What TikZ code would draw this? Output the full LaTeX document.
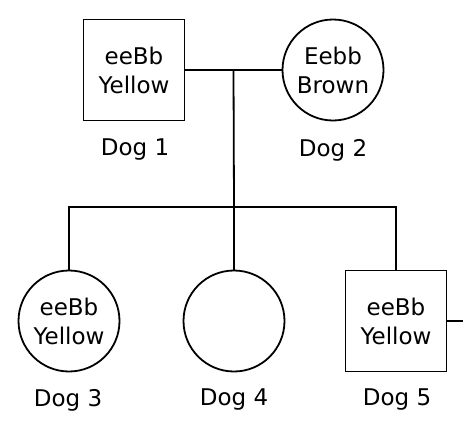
\documentclass[tikz,border=0pt]{standalone}
\usepackage{fontspec}
\setmainfont{DejaVu Sans}
\usetikzlibrary{positioning}

\begin{document}
\begin{tikzpicture}[x=1pt,y=-1pt,line width=1.8pt,
    male/.style={rectangle,draw,minimum size=101pt,inner sep=0pt,align=center,
        font=\fontsize{23}{29}\selectfont},
    female/.style={circle,draw,minimum size=101pt,inner sep=0pt,align=center,
        font=\fontsize{23}{29}\selectfont},
    tag/.style={font=\fontsize{23}{27}\selectfont}]
        \useasboundingbox (0,0) rectangle (463,426);
        % parents
        \node[male] (dog1) at (134,70) {eeBb\\Yellow};
        \node[female] (dog2) at (333,70) {Eebb\\Brown};
        \node[tag] (tag1) at (135,150) {Dog 1};
        \node[tag] (tag2) at (333,150) {Dog 2};
        % offspring
        \node[female] (dog3) at (69,321) {eeBb\\Yellow};
        \node[female] (dog4) at (234,321) {};
        \node[male] (dog5) at (396,321) {eeBb\\Yellow};
        \node[tag] (tag3) at (68,400) {Dog 3};
        \node[tag] (tag4) at (234,400) {Dog 4};
        \node[tag] (tag5) at (397,400) {Dog 5};
        % lines
        \draw (dog1.east) -- coordinate[pos=0.5] (mid) (dog2.west);
        \coordinate (sib) at (234,207);
        \coordinate (mate) at (463,321);
        \draw (mid) -- (sib);
        \draw (dog3.north) |- (sib) -| (dog5.north);
        \draw (sib) -- (dog4.north);
        \draw (dog5.east) -- (mate);
    \end{tikzpicture}
\end{document}
